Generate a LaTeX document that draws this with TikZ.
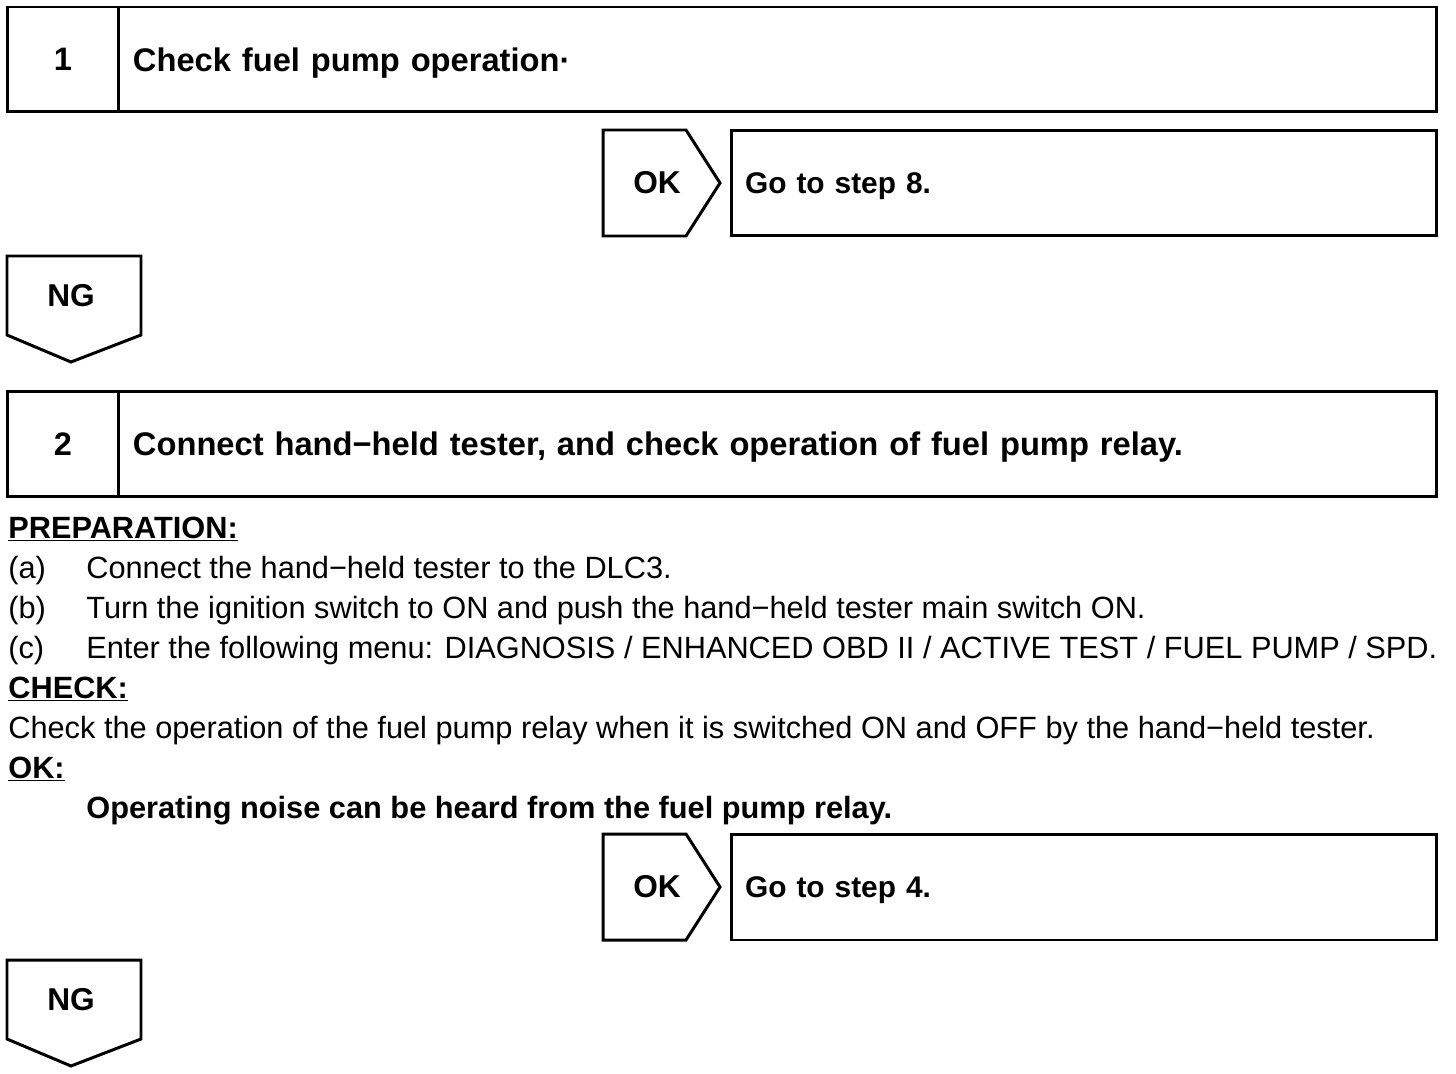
\documentclass[tikz,border=0pt]{standalone}
\usepackage{fontspec}
\setmainfont{Liberation Sans}
\usetikzlibrary{positioning}

\begin{document}
\begin{tikzpicture}[
    x=0.02cm, y=-0.02cm,
    font=\fontsize{17.5}{20}\selectfont,
    numcell/.style={rectangle, draw, line width=1.7pt, minimum width=2.24cm, minimum height=2.1cm, inner sep=0pt, outer sep=0pt, font=\fontsize{18.5}{22}\selectfont\bfseries},
    titlecell/.style={rectangle, draw, line width=1.7pt, minimum width=26.36cm, minimum height=2.1cm, text width=25.8cm, text height=13.2pt, text depth=0pt, inner xsep=0.28cm, inner ysep=0pt, outer sep=0pt, align=left, font=\fontsize{18.6}{22}\selectfont\bfseries},
    gobox/.style={rectangle, draw, line width=1.7pt, minimum width=14.12cm, minimum height=2.12cm, text width=13.56cm, text height=12.2pt, text depth=0pt, inner xsep=0.28cm, inner ysep=0pt, outer sep=0pt, align=left, font=\fontsize{17}{20}\selectfont\bfseries},
    flag/.style={draw, line width=1.7pt, line join=miter},
    flagtext/.style={inner sep=0pt, font=\fontsize{18}{22}\selectfont\bfseries},
    body/.style={anchor=base west, inner sep=0pt},
    head/.style={body, font=\fontsize{17.5}{20}\selectfont\bfseries}
]
    \useasboundingbox (0,0) rectangle (1456,1074);

    % Step 1
    \node [numcell] (num1) at (63,59.5) {1};
    \node [titlecell, right=0pt of num1] (title1) {Check fuel pump operation·};

    % OK -> step 8
    \node [gobox] (go1) at (1084,183) {Go to step 8.};
    \draw [flag] (603,130) -- (686,130) -- (720,183) -- (686,236) -- (603,236) -- cycle;
    \node [flagtext] (ok1) at (657,183) {OK};

    % NG
    \draw [flag] (7,256) -- (141,256) -- (141,335) -- (71,362) -- (7,335) -- cycle;
    \node [flagtext] (ng1) at (71,296) {NG};

    % Step 2
    \node [numcell] (num2) at (63,444) {2};
    \node [titlecell, right=0pt of num2] (title2) {Connect hand−held tester, and check operation of fuel pump relay.};

    % Text
    \node [head] (prep) at (8,538) {\underline{PREPARATION:}};
    \node [body] (la) at (8,578) {(a)};
    \node [body] (ta) at (86,578) {Connect the hand−held tester to the DLC3.};
    \node [body] (lb) at (8,618) {(b)};
    \node [body] (tb) at (86,618) {Turn the ignition switch to ON and push the hand−held tester main switch ON.};
    \node [body] (lc) at (8,658) {(c)};
    \node [body] (tc) at (86,658) {Enter the following menu: DIAGNOSIS / ENHANCED OBD II / ACTIVE TEST / FUEL PUMP / SPD.};
    \node [head] (check) at (8,698) {\underline{CHECK:}};
    \node [body] (tcheck) at (8,738) {Check the operation of the fuel pump relay when it is switched ON and OFF by the hand−held tester.};
    \node [head] (okhead) at (8,778) {\underline{OK:}};
    \node [head] (okspec) at (86,818) {Operating noise can be heard from the fuel pump relay.};

    % OK -> step 4
    \node [gobox] (go2) at (1084,887) {Go to step 4.};
    \draw [flag] (603,834) -- (686,834) -- (720,887) -- (686,940) -- (603,940) -- cycle;
    \node [flagtext] (ok2) at (657,887) {OK};

    % NG
    \draw [flag] (7,960) -- (141,960) -- (141,1039) -- (71,1066) -- (7,1039) -- cycle;
    \node [flagtext] (ng2) at (71,1000) {NG};
\end{tikzpicture}
\end{document}
